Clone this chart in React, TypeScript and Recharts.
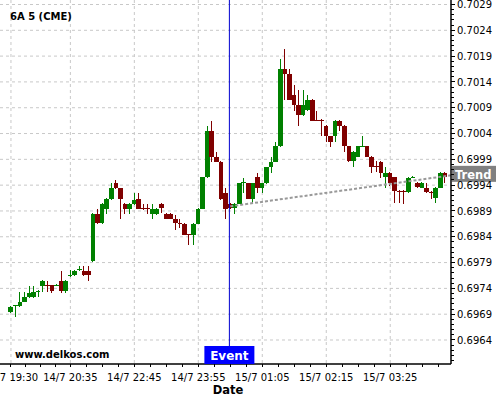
import React from 'react';
import { ComposedChart, Bar, XAxis, YAxis, CartesianGrid, ReferenceLine, ReferenceDot } from 'recharts';

const opens = [
  0.69695, 0.69705, 0.69705, 0.69714, 0.69724, 0.69724, 0.69733, 0.69745, 0.69746, 0.69746,
  0.69746, 0.69755, 0.69734, 0.69765, 0.69765, 0.69775, 0.69774, 0.69774, 0.69794, 0.69884,
  0.69866, 0.69894, 0.69913, 0.69944, 0.69934, 0.69904, 0.69894, 0.69904, 0.69913, 0.69895,
  0.69895, 0.69884, 0.69884, 0.69904, 0.69884, 0.69884, 0.69875, 0.69866, 0.69865, 0.69845,
  0.69844, 0.69865, 0.69894, 0.69955, 0.70045, 0.69995, 0.69985, 0.69925, 0.69904, 0.69895,
  0.69904, 0.69945, 0.69944, 0.69913, 0.69955, 0.69935, 0.69944, 0.69975, 0.69985, 0.70015,
  0.70165, 0.70156, 0.70115, 0.70096, 0.70075, 0.70085, 0.70105, 0.70067, 0.70067, 0.70055,
  0.70035, 0.70035, 0.70065, 0.70055, 0.70015, 0.69986, 0.69995, 0.70014, 0.70015, 0.69995,
  0.69977, 0.69985, 0.69955, 0.69964, 0.69955, 0.69929, 0.69929, 0.69926, 0.69955, 0.69945,
  0.69935, 0.69935, 0.69927, 0.69916, 0.69935, 0.69964,
];
const highs = [
  0.69706, 0.69708, 0.69733, 0.69733, 0.69744, 0.69744, 0.69736, 0.69756, 0.69755, 0.69747,
  0.69748, 0.69774, 0.69756, 0.69775, 0.69775, 0.69784, 0.69784, 0.69784, 0.69886, 0.69894,
  0.69905, 0.69915, 0.69944, 0.6995, 0.69935, 0.69905, 0.69905, 0.69925, 0.69925, 0.69903,
  0.69903, 0.69903, 0.69896, 0.69905, 0.69886, 0.69886, 0.69882, 0.69874, 0.69866, 0.69846,
  0.69866, 0.69895, 0.69956, 0.70055, 0.70065, 0.70005, 0.69986, 0.69934, 0.69905, 0.69905,
  0.69945, 0.69954, 0.69945, 0.69945, 0.69964, 0.69945, 0.69976, 0.69995, 0.70024, 0.70184,
  0.70203, 0.70165, 0.70134, 0.70125, 0.70125, 0.70115, 0.70106, 0.70083, 0.70068, 0.70056,
  0.70036, 0.70066, 0.70066, 0.70056, 0.70016, 0.70006, 0.70016, 0.70035, 0.70016, 0.69996,
  0.69986, 0.69986, 0.69975, 0.69965, 0.69956, 0.6993, 0.6993, 0.69955, 0.69957, 0.69946,
  0.69946, 0.69945, 0.69928, 0.69936, 0.69965, 0.69965,
];
const lows = [
  0.69693, 0.69684, 0.69704, 0.69713, 0.69722, 0.69722, 0.69723, 0.69733, 0.69733, 0.69732,
  0.69744, 0.69732, 0.69732, 0.69762, 0.69764, 0.69774, 0.69764, 0.69755, 0.69792, 0.69864,
  0.69864, 0.69884, 0.69912, 0.69932, 0.69874, 0.69884, 0.69884, 0.69902, 0.69893, 0.69892,
  0.69884, 0.69874, 0.69882, 0.69886, 0.69874, 0.69874, 0.69853, 0.69857, 0.69843, 0.69824,
  0.69824, 0.69864, 0.69893, 0.69954, 0.69985, 0.69984, 0.69912, 0.69874, 0.69894, 0.69884,
  0.69903, 0.69925, 0.69913, 0.69904, 0.69925, 0.69925, 0.69943, 0.69963, 0.69984, 0.70014,
  0.70105, 0.70104, 0.70083, 0.70054, 0.70074, 0.70084, 0.70064, 0.70065, 0.70035, 0.70023,
  0.70014, 0.70023, 0.70045, 0.70005, 0.69985, 0.69976, 0.69994, 0.70013, 0.69994, 0.69963,
  0.69966, 0.69954, 0.69934, 0.69939, 0.69905, 0.69905, 0.69904, 0.69925, 0.69954, 0.69934,
  0.69934, 0.69925, 0.69913, 0.69905, 0.69934, 0.69945,
];
const closes = [
  0.69704, 0.69707, 0.69714, 0.69724, 0.69732, 0.69733, 0.69735, 0.69755, 0.69745, 0.69734,
  0.69747, 0.69734, 0.69755, 0.69766, 0.69774, 0.69777, 0.69765, 0.69765, 0.69884, 0.69866,
  0.69904, 0.69913, 0.69934, 0.69934, 0.69913, 0.69894, 0.69904, 0.69912, 0.69894, 0.69894,
  0.69894, 0.69894, 0.69894, 0.69895, 0.69875, 0.69875, 0.69866, 0.69865, 0.69844, 0.69844,
  0.69865, 0.69894, 0.69955, 0.70045, 0.69995, 0.69985, 0.69913, 0.69894, 0.69895, 0.69904,
  0.69944, 0.69946, 0.69914, 0.69944, 0.69935, 0.69944, 0.69975, 0.69985, 0.70015, 0.70165,
  0.70156, 0.70105, 0.70096, 0.70075, 0.70096, 0.70105, 0.70065, 0.70066, 0.70066, 0.70035,
  0.70024, 0.70065, 0.70055, 0.70015, 0.69986, 0.70005, 0.70015, 0.70015, 0.69995, 0.69976,
  0.69976, 0.69964, 0.69964, 0.69945, 0.69928, 0.69928, 0.69928, 0.69954, 0.69956, 0.69936,
  0.69945, 0.69926, 0.69926, 0.69935, 0.69964, 0.69955,
];

const xTickIndex = [0, 13, 27, 41, 55, 69, 83];
const xTickLabels = ['14/7 19:30', '14/7 20:35', '14/7 22:45', '14/7 23:55', '15/7 01:05', '15/7 02:15', '15/7 03:25'];
const yTickValues = [0.6964, 0.6969, 0.6974, 0.6979, 0.6984, 0.6989, 0.6994, 0.6999, 0.7004, 0.7009, 0.7014, 0.7019, 0.7024, 0.7029];
const xDomain = [-2.4, 96.3];
const yDomain = [0.695935, 0.702987];
const eventIndex = 47.8;
const trendStart = { x: 48, y: 0.69899 };
const trendEnd = { x: 96.3, y: 0.69959 };

const data = opens.map((o, i) => ({
  i,
  o,
  h: highs[i],
  l: lows[i],
  c: closes[i],
  range: [lows[i], highs[i]],
}));

// minor tick positions (quarters between labelled ticks)
const xMinor: number[] = [];
for (let k = 0; k < xTickIndex.length; k++) {
  const a = xTickIndex[k];
  const b = k + 1 < xTickIndex.length ? xTickIndex[k + 1] : a + 14;
  for (let j = 1; j < 4; j++) {
    const v = a + ((b - a) * j) / 4;
    if (v <= xDomain[1]) xMinor.push(v);
  }
}
const xAllTicks = [...xTickIndex, ...xMinor].sort((a, b) => a - b);

const yAllTicks: number[] = [];
for (let k = 0; k <= 75; k++) {
  const v = Math.round((0.6959 + k * 0.0001) * 10000) / 10000;
  if (v >= yDomain[0] && v <= yDomain[1]) yAllTicks.push(v);
}

const FONT = 'DejaVu Sans, sans-serif';

const Candle = (props: any) => {
  const { x, y, width, height, payload } = props;
  if (!payload) return null;
  const { o, h, l, c } = payload;
  const top = height < 0 ? y + height : y;
  const hh = Math.abs(height);
  const cx = x + width / 2;
  const span = h - l;
  const k = span > 0 ? hh / span : 0;
  const bTop = top + (h - Math.max(o, c)) * k;
  const bBot = top + (h - Math.min(o, c)) * k;
  const color = c >= o ? '#008000' : '#800000';
  const bw = 4.6;
  return (
    <g>
      <line x1={cx} x2={cx} y1={top} y2={top + hh} stroke={color} strokeWidth={1} shapeRendering="crispEdges" />
      <rect x={cx - bw / 2} y={bTop} width={bw} height={Math.max(1, bBot - bTop)} fill={color} shapeRendering="crispEdges" />
    </g>
  );
};

const XTick = (props: any) => {
  const { x, y, payload } = props;
  const idx = xTickIndex.indexOf(payload.value);
  return (
    <g>
      <line x1={x} x2={x} y1={y} y2={y + 3} stroke="#000" strokeWidth={1} shapeRendering="crispEdges" />
      {idx >= 0 && (
        <text x={x} y={y + 17} textAnchor="middle" fontSize={10} fontFamily={FONT} fill="#000">
          {xTickLabels[idx]}
        </text>
      )}
    </g>
  );
};

const YTick = (props: any) => {
  const { x, y, payload } = props;
  const idx = yTickValues.findIndex((v) => Math.abs(v - payload.value) < 1e-7);
  const major = idx >= 0;
  return (
    <g>
      <line x1={x} x2={x + (major ? 4 : 2.5)} y1={y} y2={y} stroke="#000" strokeWidth={1} shapeRendering="crispEdges" />
      {major && (
        <text x={x + 6} y={y + 3.6} textAnchor="start" fontSize={10} fontFamily={FONT} fill="#000">
          {yTickValues[idx].toFixed(4)}
        </text>
      )}
    </g>
  );
};

const EventBox = (props: any) => {
  const { cx, cy } = props;
  return (
    <g>
      <rect x={cx - 25} y={cy - 18} width={50} height={18} fill="#0000ff" />
      <text x={cx} y={cy - 4} textAnchor="middle" fontSize={12} fontWeight="bold" fontFamily={FONT} fill="#fff">
        Event
      </text>
    </g>
  );
};

const TrendBox = (props: any) => {
  const { cx, cy } = props;
  return (
    <g>
      <rect x={cx + 1} y={cy - 9.5} width={44} height={16} fill="#808080" />
      <text x={cx + 4} y={cy + 4} textAnchor="start" fontSize={11.5} fontWeight="bold" fontFamily={FONT} fill="#fff">
        Trend
      </text>
    </g>
  );
};

export default function App() {
  return (
    <div style={{ position: 'absolute', left: 0, top: 0, width: 500, height: 400, background: '#fff' }}>
      <ComposedChart width={500} height={400} data={data} margin={{ top: 0, right: 0, bottom: 0, left: 0 }}>
        <CartesianGrid
          stroke="#c8c8c8"
          strokeDasharray="3 3"
          horizontalValues={yTickValues}
          verticalValues={xTickIndex}
        />
        <XAxis
          xAxisId={0}
          type="number"
          dataKey="i"
          domain={xDomain}
          allowDataOverflow
          ticks={xAllTicks}
          interval={0}
          tick={<XTick />}
          tickLine={false}
          tickSize={0}
          tickMargin={0}
          axisLine={{ stroke: '#000', strokeWidth: 1.5 }}
          height={36}
        />
        <YAxis
          yAxisId={0}
          orientation="right"
          type="number"
          domain={yDomain}
          allowDataOverflow
          ticks={yAllTicks}
          interval={0}
          tick={<YTick />}
          tickLine={false}
          tickSize={0}
          tickMargin={0}
          axisLine={{ stroke: '#000', strokeWidth: 1.5 }}
          width={49}
        />
        <ReferenceLine
          segment={[trendStart, trendEnd]}
          stroke="#999"
          strokeWidth={2}
          strokeDasharray="3 2"
          ifOverflow="visible"
        />
        <Bar dataKey="range" barSize={5} shape={<Candle />} isAnimationActive={false} />
        <ReferenceLine x={eventIndex} stroke="#0000d0" strokeWidth={1} />
        <ReferenceDot x={eventIndex} y={yDomain[0]} r={0} ifOverflow="visible" shape={<EventBox />} />
        <ReferenceDot x={trendEnd.x} y={trendEnd.y} r={0} ifOverflow="visible" shape={<TrendBox />} />
      </ComposedChart>
      <svg width={500} height={400} style={{ position: 'absolute', left: 0, top: 0, pointerEvents: 'none' }}>
        <text x={10} y={20} fontSize={10} fontWeight="bold" fontFamily={FONT} fill="#000">
          6A 5 (CME)
        </text>
        <text x={15} y={358} fontSize={10} fontWeight="bold" fontFamily={FONT} fill="#000">
          www.delkos.com
        </text>
        <text x={228} y={394} textAnchor="middle" fontSize={11.5} fontWeight="bold" fontFamily={FONT} fill="#000">
          Date
        </text>
      </svg>
    </div>
  );
}
